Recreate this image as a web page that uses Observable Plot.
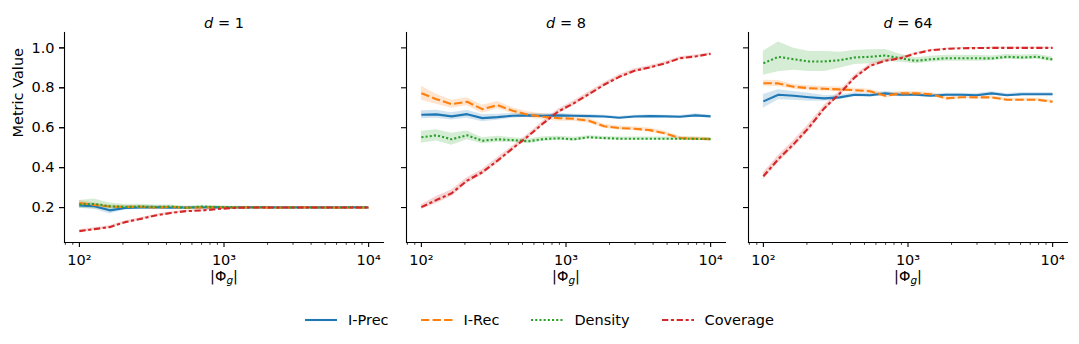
<!DOCTYPE html>
<html>
<head>
<meta charset="utf-8">
<script src="https://cdn.jsdelivr.net/npm/d3@7"></script>
<script src="https://cdn.jsdelivr.net/npm/@observablehq/plot@0.6"></script>
<style>
  html, body { margin: 0; padding: 0; background: #fff; }
  body { width: 1079px; height: 344px; overflow: hidden; font-family: "DejaVu Sans", sans-serif; color: #000; }
  #chart svg text { font-family: "DejaVu Sans", sans-serif; font-size: 14.5px; }
  #legend { display: flex; justify-content: center; align-items: center; gap: 32px; height: 48px; font-size: 14.5px; }
  .item { display: flex; align-items: center; }
  .item svg { margin-right: 11px; }
</style>
</head>
<body>
<div id="chart"></div>
<div id="legend"></div>
<script>
// ---------- data ----------
const panels = ["d = 1", "d = 8", "d = 64"];
const metrics = ["I-Prec", "I-Rec", "Density", "Coverage"];
const colors = ["#1f77b4", "#ff7f0e", "#2ca02c", "#d62728"];
const dashes = ["none", "8.4,3.15", "2.1,2.1", "6.3,2.6,3.15,2.6"];
const sizes = [100,127,162,207,264,336,428,546,695,886,1129,1438,1833,2336,2976,3793,4833,6158,7848,10000];
const xTicks = [100, 1000, 10000];
const xTickLabels = ["10²", "10³", "10⁴"];
const xMinorTicks = [80,90,200,300,400,500,600,700,800,900,2000,3000,4000,5000,6000,7000,8000,9000];
const yTicks = [0.2, 0.4, 0.6, 0.8, 1.0];

// d = 1
const prec1 = [0.21,0.207,0.186,0.198,0.2,0.201,0.199,0.2,0.2,0.201,0.2,0.2,0.2,0.2,0.2,0.2,0.2,0.2,0.2,0.2];
const prec1Err = [0.012,0.015,0.018,0.01,0.008,0.008,0.006,0.005,0.005,0.004,0.004,0.003,0.003,0.003,0.003,0.003,0.003,0.003,0.003,0.003];
const rec1 = [0.223,0.213,0.205,0.203,0.204,0.2,0.203,0.199,0.2,0.201,0.2,0.2,0.2,0.199,0.2,0.2,0.2,0.199,0.2,0.199];
const rec1Err = [0.012,0.01,0.008,0.007,0.006,0.006,0.005,0.005,0.004,0.004,0.004,0.003,0.003,0.003,0.003,0.003,0.003,0.003,0.003,0.003];
const dens1 = [0.215,0.218,0.207,0.203,0.205,0.203,0.205,0.198,0.205,0.203,0.202,0.201,0.202,0.2,0.2,0.201,0.2,0.2,0.202,0.201];
const dens1Err = [0.02,0.025,0.016,0.012,0.012,0.01,0.008,0.008,0.007,0.006,0.005,0.005,0.004,0.004,0.004,0.004,0.004,0.004,0.004,0.004];
const cov1 = [0.082,0.092,0.102,0.127,0.143,0.16,0.173,0.182,0.185,0.192,0.198,0.2,0.2,0.2,0.2,0.2,0.2,0.2,0.2,0.2];
const cov1Err = [0.007,0.007,0.007,0.006,0.006,0.005,0.005,0.004,0.004,0.003,0.003,0.003,0.003,0.003,0.003,0.003,0.003,0.003,0.003,0.003];

// d = 8
const prec8 = [0.665,0.667,0.657,0.668,0.648,0.653,0.66,0.662,0.66,0.662,0.66,0.658,0.656,0.65,0.656,0.658,0.657,0.655,0.662,0.657];
const prec8Err = [0.02,0.02,0.018,0.02,0.018,0.015,0.012,0.01,0.01,0.01,0.008,0.008,0.006,0.006,0.006,0.006,0.006,0.006,0.008,0.006];
const rec8 = [0.773,0.743,0.718,0.73,0.693,0.713,0.685,0.665,0.655,0.648,0.645,0.635,0.607,0.598,0.595,0.588,0.572,0.548,0.545,0.543];
const rec8Err = [0.035,0.025,0.02,0.02,0.02,0.018,0.015,0.015,0.015,0.015,0.012,0.012,0.01,0.01,0.01,0.01,0.01,0.008,0.008,0.008];
const dens8 = [0.552,0.562,0.542,0.562,0.535,0.542,0.538,0.532,0.543,0.547,0.542,0.552,0.548,0.545,0.545,0.545,0.545,0.545,0.544,0.543];
const dens8Err = [0.03,0.028,0.03,0.022,0.015,0.015,0.012,0.012,0.012,0.01,0.01,0.008,0.008,0.008,0.008,0.008,0.008,0.008,0.008,0.008];
const cov8 = [0.202,0.238,0.272,0.335,0.377,0.435,0.497,0.557,0.622,0.682,0.722,0.768,0.815,0.855,0.885,0.902,0.922,0.948,0.957,0.97];
const cov8Err = [0.012,0.018,0.016,0.014,0.014,0.014,0.012,0.012,0.012,0.012,0.012,0.012,0.01,0.01,0.01,0.009,0.008,0.007,0.007,0.006];

// d = 64
const prec64 = [0.732,0.765,0.76,0.753,0.747,0.752,0.765,0.763,0.772,0.765,0.765,0.76,0.765,0.765,0.763,0.772,0.763,0.768,0.768,0.768];
const prec64Err = [0.035,0.025,0.022,0.02,0.015,0.012,0.01,0.01,0.01,0.01,0.008,0.008,0.008,0.008,0.008,0.008,0.008,0.008,0.008,0.008];
const rec64 = [0.823,0.822,0.805,0.798,0.795,0.792,0.788,0.783,0.76,0.772,0.772,0.768,0.747,0.753,0.752,0.752,0.74,0.74,0.74,0.73];
const rec64Err = [0.015,0.015,0.012,0.012,0.012,0.012,0.01,0.01,0.01,0.01,0.01,0.008,0.008,0.008,0.008,0.008,0.008,0.008,0.008,0.008];
const dens64 = [0.923,0.955,0.943,0.932,0.932,0.938,0.952,0.955,0.962,0.948,0.935,0.943,0.948,0.948,0.948,0.947,0.955,0.952,0.955,0.942];
const dens64Err = [0.06,0.075,0.055,0.05,0.05,0.04,0.035,0.035,0.03,0.02,0.015,0.015,0.015,0.015,0.015,0.012,0.012,0.012,0.012,0.012];
const cov64 = [0.357,0.443,0.518,0.602,0.698,0.77,0.852,0.91,0.935,0.948,0.972,0.988,0.995,0.998,0.999,1.0,1.0,1.0,1.0,1.0];
const cov64Err = [0.018,0.018,0.018,0.018,0.015,0.012,0.012,0.01,0.008,0.006,0.005,0.004,0.003,0.003,0.003,0.003,0.003,0.003,0.003,0.003];

const series = {
  "d = 1":  [[prec1, prec1Err], [rec1, rec1Err], [dens1, dens1Err], [cov1, cov1Err]],
  "d = 8":  [[prec8, prec8Err], [rec8, rec8Err], [dens8, dens8Err], [cov8, cov8Err]],
  "d = 64": [[prec64, prec64Err], [rec64, rec64Err], [dens64, dens64Err], [cov64, cov64Err]]
};

// ---------- table ----------
const rows = [];
for (const p of panels) {
  series[p].forEach(([vals, errs], mi) => {
    vals.forEach((v, i) => rows.push({panel: p, metric: metrics[mi], x: sizes[i], v, lo: v - errs[i], hi: v + errs[i]}));
  });
}

const lineMarks = metrics.map((m, mi) => Plot.line(rows.filter(r => r.metric === m), {
  x: "x", y: "v", fx: "panel", stroke: colors[mi], strokeWidth: 2.1,
  strokeDasharray: dashes[mi], strokeLinecap: "butt", strokeLinejoin: "round"
}));

const FS = 14.5;
const chart = Plot.plot({
  width: 1079, height: 296,
  marginLeft: 64, marginRight: 11, marginTop: 32, marginBottom: 54,
  style: {fontFamily: "DejaVu Sans", fontSize: FS + "px", color: "#000", background: "#fff"},
  fx: {domain: panels, paddingInner: 0.066, paddingOuter: 0, axis: null, label: null},
  x: {type: "log", domain: [78.9, 12670]},
  y: {domain: [0.025, 1.077]},
  color: {domain: metrics, range: colors},
  marks: [
    Plot.areaY(rows, {x: "x", y1: "lo", y2: "hi", fx: "panel", z: "metric", fill: "metric", fillOpacity: 0.2}),
    ...lineMarks,
    Plot.frame({anchor: "left", stroke: "#000", strokeWidth: 1.1}),
    Plot.frame({anchor: "bottom", stroke: "#000", strokeWidth: 1.1}),
    Plot.axisY({ticks: yTicks, tickSize: 5, tickPadding: 5, tickFormat: d => d.toFixed(1), label: null, strokeWidth: 1.1, fontSize: FS}),
    Plot.axisY({ticks: yTicks, tickSize: 5, tickFormat: () => "", label: null, strokeWidth: 1.1, facetAnchor: null}),
    Plot.axisX({ticks: xTicks, tickSize: 5, tickPadding: 7, tickFormat: d => xTickLabels[xTicks.indexOf(d)], label: null, strokeWidth: 1.1, fontSize: FS}),
    Plot.axisX({ticks: xMinorTicks, tickSize: 2.8, tickFormat: () => "", label: null, strokeWidth: 0.8}),
    Plot.text(panels, {fx: d => d, text: d => d, frameAnchor: "top", dy: -15, fontSize: FS}),
    Plot.text(panels, {fx: d => d, text: () => "|Φg|", frameAnchor: "bottom", dy: 38, fontSize: FS}),
    Plot.text(panels.slice(0, 1), {fx: d => d, text: () => "Metric Value", frameAnchor: "left", rotate: -90, dx: -46, fontSize: FS})
  ]
});
document.getElementById("chart").appendChild(chart);

// mathtext-like styling
d3.select(chart).selectAll("text").each(function () {
  const t = this.textContent;
  if (/^d = \d+$/.test(t)) {
    this.innerHTML = `<tspan font-style="italic">d</tspan> = ${t.slice(4)}`;
  } else if (t === "|Φg|") {
    this.innerHTML = `|Φ<tspan font-style="italic" font-size="10.5" dy="3">g</tspan><tspan dy="-3">|</tspan>`;
  }
});

// legend
const legend = d3.select("#legend");
metrics.forEach((m, mi) => {
  const item = legend.append("div").attr("class", "item");
  const s = item.append("svg").attr("width", 32).attr("height", 10);
  s.append("line").attr("x1", 0).attr("x2", 32).attr("y1", 5).attr("y2", 5)
    .attr("stroke", colors[mi]).attr("stroke-width", 2.1)
    .attr("stroke-dasharray", dashes[mi]).attr("stroke-linecap", "butt");
  item.append("span").text(m);
});
</script>
</body>
</html>
